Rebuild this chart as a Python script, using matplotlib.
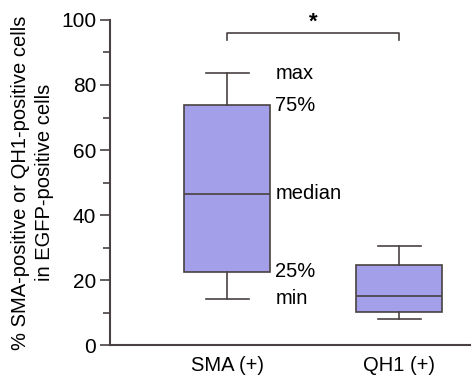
import matplotlib
matplotlib.use("Agg")
import matplotlib.pyplot as plt

plt.rcParams["font.family"] = ["Liberation Sans", "DejaVu Sans"]

groups = ["SMA (+)", "QH1 (+)"]
whislo = [14.2, 8.0]
q1 = [22.6, 10.3]
med = [46.5, 15.1]
q3 = [73.8, 24.8]
whishi = [83.6, 30.6]
stat_labels = ["max", "75%", "median", "25%", "min"]

edge = "#4a4242"
fill = "#a39fe8"

fig = plt.figure(figsize=(4.76, 3.76), dpi=100)
ax = fig.add_axes([0.231, 0.082, 0.756, 0.865])

stats = [
    dict(label=g, whislo=a, q1=b, med=c, q3=d, whishi=e, fliers=[])
    for g, a, b, c, d, e in zip(groups, whislo, q1, med, q3, whishi)
]
ax.bxp(stats, positions=[1, 2], widths=0.5, patch_artist=True,
       boxprops=dict(facecolor=fill, edgecolor=edge, linewidth=1.2),
       medianprops=dict(color=edge, linewidth=1.2),
       whiskerprops=dict(color=edge, linewidth=1.2),
       capprops=dict(color=edge, linewidth=1.2), capwidths=0.25)

# labels beside the first box
vals = [whishi[0], q3[0], med[0], q1[0], whislo[0]]
for lab, v in zip(stat_labels, vals):
    ax.text(1.28, v, lab, fontsize=14.5, va="center", ha="left")

# significance bracket
ax.plot([1, 1, 2, 2], [93.8, 95.9, 95.9, 93.8], color=edge, lw=1.2,
        clip_on=False)
ax.text(1.5, 96.0, "*", fontsize=16, ha="center", va="bottom",
        fontweight="bold")

ax.set_xlim(0.32, 2.41)
ax.set_ylim(0, 100)
ax.set_yticks(range(0, 101, 20))
ax.set_yticks(range(10, 100, 20), minor=True)
ax.tick_params(axis="y", which="major", length=7, width=1.2, colors=edge,
               labelsize=15, labelcolor="black", pad=3)
ax.tick_params(axis="y", which="minor", length=5, width=1.2, colors=edge)
ax.tick_params(axis="x", length=0, labelsize=14.5, pad=8)
for s in ["top", "right"]:
    ax.spines[s].set_visible(False)
for s in ["left", "bottom"]:
    ax.spines[s].set_color(edge)
    ax.spines[s].set_linewidth(1.5)
ax.set_ylabel("% SMA-positive or QH1-positive cells\nin EGFP-positive cells",
              fontsize=14.5, labelpad=5, linespacing=1.3)

fig.savefig("out.png", dpi=100)
